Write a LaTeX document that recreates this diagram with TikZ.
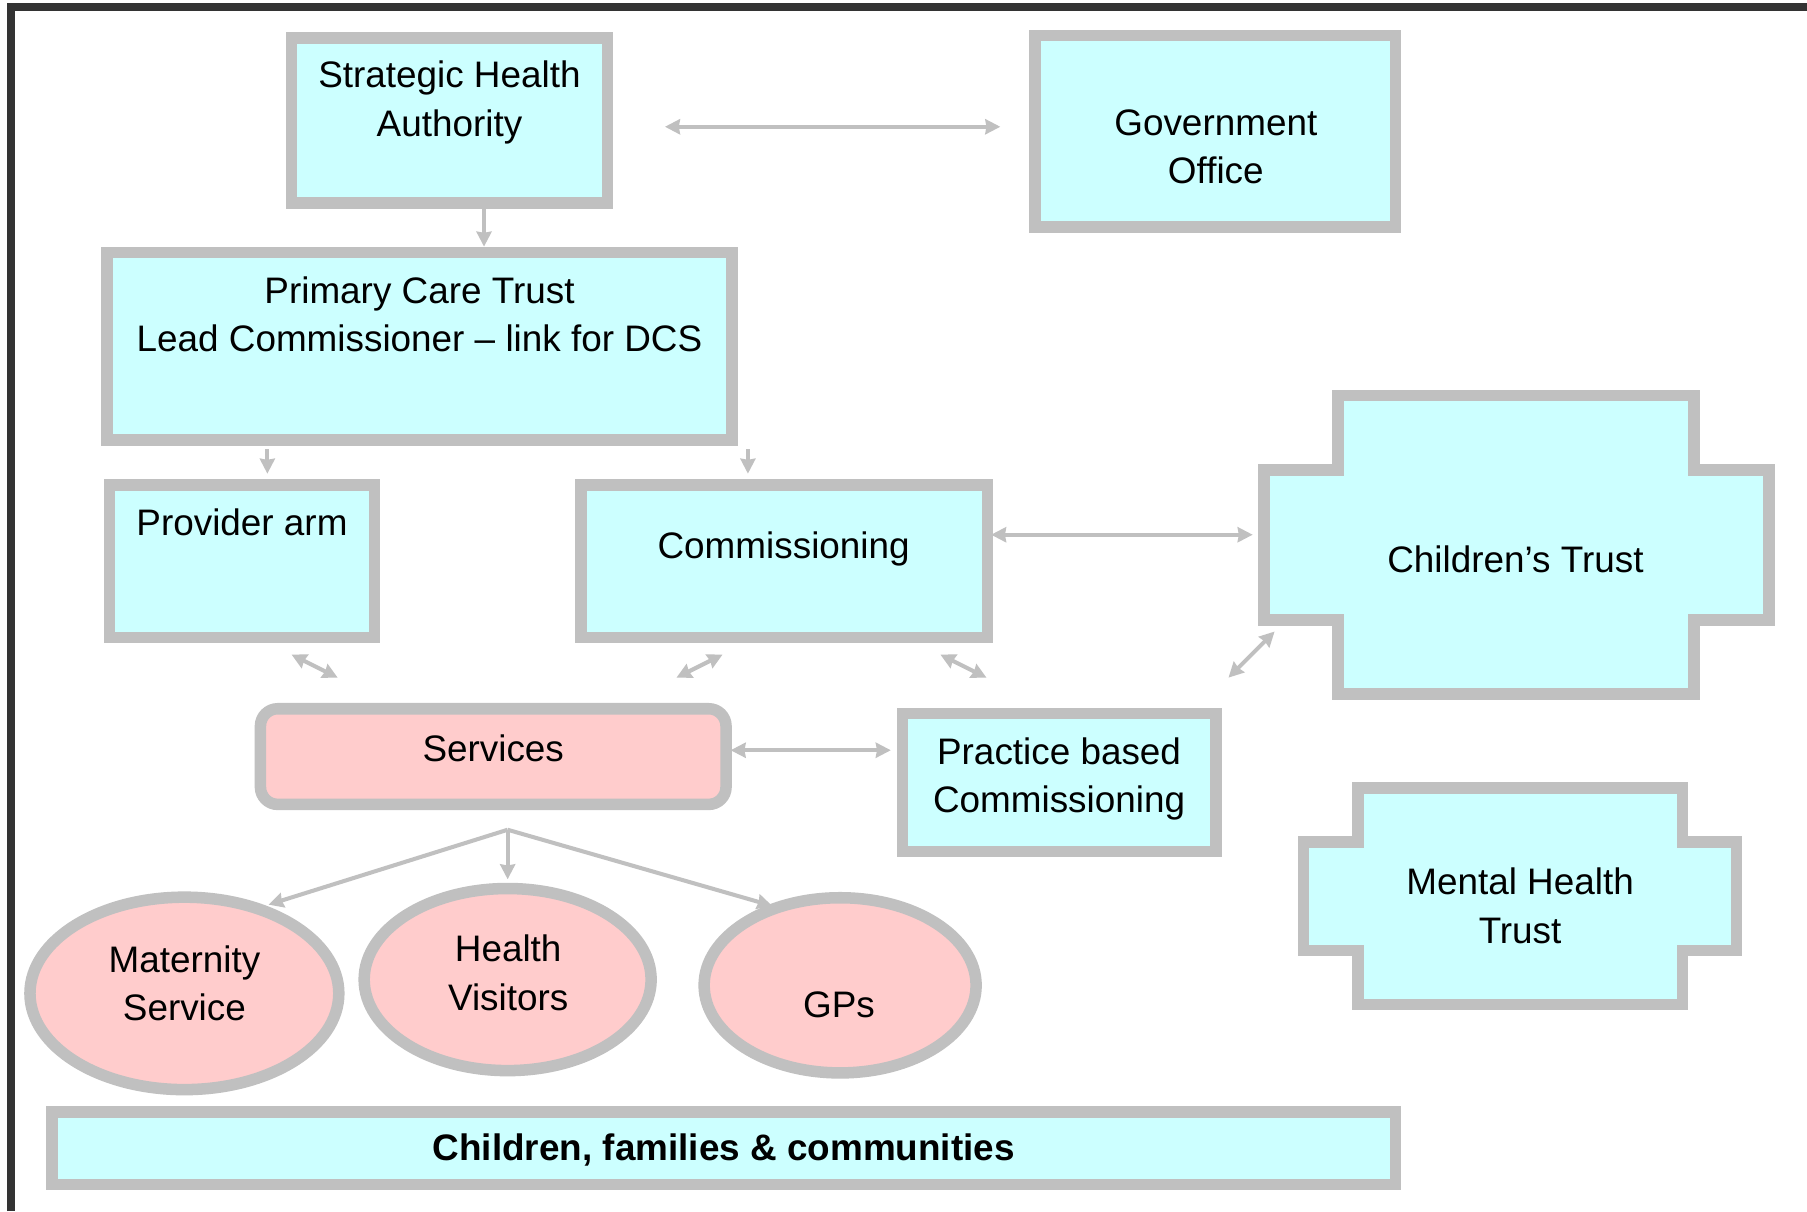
\documentclass[tikz,border=0pt]{standalone}
\usepackage{fontspec}
\setmainfont{Liberation Sans}
\usetikzlibrary{arrows.meta,shapes.geometric,fit}
\definecolor{edgegray}{HTML}{C0C0C0}
\definecolor{cyanfill}{HTML}{CCFFFF}
\definecolor{pinkfill}{HTML}{FFCCCC}
\definecolor{framegray}{HTML}{333333}
\definecolor{arrowgray}{HTML}{C0C0C0}
\begin{document}
\begin{tikzpicture}[x=1pt,y=-1pt,
  box/.style={draw=edgegray, line width=10pt, fill=cyanfill, inner sep=0pt, line join=miter},
  pbox/.style={box, fill=pinkfill},
  txt/.style={font=\fontsize{32}{42}\selectfont, align=center, inner sep=0pt, text=black},
  tip/.tip={Stealth[length=13pt,width=13pt,inset=1pt]},
  conn/.style={draw=arrowgray, line width=3.5pt, tip-tip},
  oneway/.style={draw=arrowgray, line width=3.5pt, -tip}]
\useasboundingbox (0,0) rectangle (1568,1051);
\fill[white] (0,0) rectangle (1568,1051);
% frame
\draw[framegray, line width=7pt, line join=miter] (9.7,1051) -- (9.7,6.2) -- (1568,6.2);

% boxes
\node[box, fit={(253,33) (527,176)}] (sha) {};
\node[txt] (shaT) at (390,89) {Strategic Health\\Authority};
\node[box, fit={(898,31) (1211,197)}] (go) {};
\node[txt] (goT) at (1055,127.5) {Government\\Office};
\node[box, fit={(93,219) (635,382)}] (pct) {};
\node[txt] (pctT) at (364,273) {Primary Care Trust\\Lead Commissioner -- link for DCS};
\node[box, fit={(95,421) (325,553)}] (prov) {};
\node[txt] (provT) at (210,453) {Provider arm};
\node[box, fit={(504,421) (857,553)}] (comm) {};
\node[txt] (commT) at (680,476) {Commissioning};
\node[pbox, rounded corners=15pt, fit={(226,615) (630,698)}] (serv) {};
\node[txt] (servT) at (428,649) {Services};
\node[box, fit={(783,619) (1055,739)}] (pbc) {};
\node[txt] (pbcT) at (919,676) {Practice based\\Commissioning};
\node[box, fit={(45,965) (1211,1028)}] (cfc) {};
\node[txt, font=\fontsize{32}{42}\selectfont\bfseries] (cfcT) at (628,998) {Children, families \& communities};

% cross shapes
\draw[box] (1161,343) -- (1470,343) -- (1470,408) -- (1535,408) -- (1535,538) -- (1470,538)
  -- (1470,602) -- (1161,602) -- (1161,538) -- (1097,538) -- (1097,408) -- (1161,408) -- cycle;
\node[txt] (ctT) at (1315,485) {Children’s Trust};
\draw[box] (1178.5,683.6) -- (1459.8,683.6) -- (1459.8,730.4) -- (1507,730.4) -- (1507,824.6)
  -- (1459.8,824.6) -- (1459.8,871.5) -- (1178.5,871.5) -- (1178.5,824.6) -- (1131,824.6)
  -- (1131,730.4) -- (1178.5,730.4) -- cycle;
\node[txt] (mhtT) at (1319,786) {Mental Health\\Trust};

% ellipses
\node[pbox, ellipse, minimum width=268pt, minimum height=167pt] (mat) at (160,862) {};
\node[txt] (matT) at (160,853) {Maternity\\Service};
\node[pbox, ellipse, minimum width=249pt, minimum height=158pt] (hv) at (440.5,850) {};
\node[txt] (hvT) at (441,844) {Health\\Visitors};
\node[pbox, ellipse, minimum width=236pt, minimum height=152pt] (gp) at (729,855) {};
\node[txt] (gpT) at (728,872) {GPs};

% connector end points
\coordinate (shaGo1) at (577,110);
\coordinate (shaGo2) at (868,110);
\coordinate (shaPct1) at (420,181);
\coordinate (shaPct2) at (420,214);
\coordinate (pctProv1) at (232,390);
\coordinate (pctProv2) at (232,411);
\coordinate (pctComm1) at (649,390);
\coordinate (pctComm2) at (649,411);
\coordinate (commCt1) at (860,464);
\coordinate (commCt2) at (1087,464);
\coordinate (provServ1) at (253,568);
\coordinate (provServ2) at (293,588);
\coordinate (commServ1) at (627,568);
\coordinate (commServ2) at (587,588);
\coordinate (commPbc1) at (816,568);
\coordinate (commPbc2) at (856,588);
\coordinate (ctPbc1) at (1106,548);
\coordinate (ctPbc2) at (1066,588);
\coordinate (servPbc1) at (634,651);
\coordinate (servPbc2) at (773,651);
\coordinate (branch) at (440.5,720);
\coordinate (toMat) at (233,785);
\coordinate (toHv) at (440.5,763);
\coordinate (toGp) at (670,786);

% connectors
\draw[conn] (shaGo1) -- (shaGo2);
\draw[oneway] (shaPct1) -- (shaPct2);
\draw[oneway] (pctProv1) -- (pctProv2);
\draw[oneway] (pctComm1) -- (pctComm2);
\draw[conn] (commCt1) -- (commCt2);
\draw[conn] (provServ1) -- (provServ2);
\draw[conn] (commServ1) -- (commServ2);
\draw[conn] (commPbc1) -- (commPbc2);
\draw[conn] (ctPbc1) -- (ctPbc2);
\draw[conn] (servPbc1) -- (servPbc2);
\draw[oneway] (branch) -- (toMat);
\draw[oneway] (branch) -- (toHv);
\draw[oneway] (branch) -- (toGp);
\end{tikzpicture}
\end{document}
